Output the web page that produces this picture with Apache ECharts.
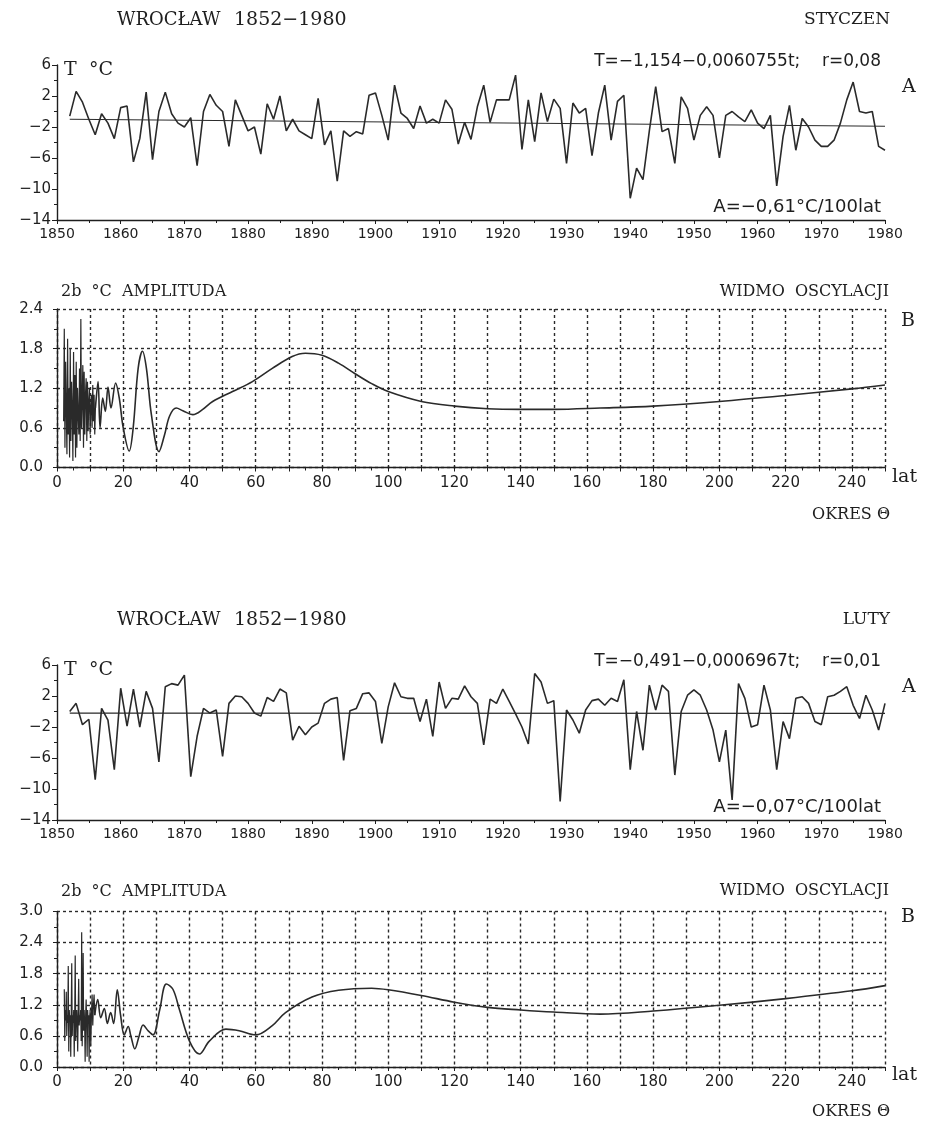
<!DOCTYPE html>
<html><head><meta charset="utf-8">
<script src="https://cdn.jsdelivr.net/npm/echarts@6/dist/echarts.min.js"></script>
<style>html,body{margin:0;padding:0;background:#fff}#c{width:934px;height:1122px}</style>
</head><body><div id="c"></div>
<script>
// ---------------- DATA ----------------
const startYear = 1852;
const janTemps = [
 -0.6, 2.6, 1.2, -1.0, -3.0, -0.3, -1.5, -3.5, 0.5, 0.7,
 -6.5, -3.5, 2.5, -6.2, 0.0, 2.5, -0.3, -1.5, -2.0, -0.8,
 -7.0, 0.0, 2.2, 0.8, 0.0, -4.5, 1.5, -0.5, -2.5, -2.0,
 -5.5, 1.0, -1.0, 2.0, -2.5, -1.0, -2.5, -3.0, -3.5, 1.7,
 -4.3, -2.5, -9.0, -2.5, -3.2, -2.6, -2.9, 2.1, 2.4, -0.5,
 -3.7, 3.4, -0.2, -0.9, -2.2, 0.7, -1.5, -1.0, -1.5, 1.5,
 0.3, -4.2, -1.4, -3.6, 0.6, 3.4, -1.4, 1.5, 1.5, 1.5,
 4.7, -4.9, 1.5, -3.9, 2.4, -1.3, 1.6, 0.4, -6.7, 1.1,
 -0.2, 0.4, -5.7, -0.2,
 3.4, -3.7, 1.3, 2.1, -11.2, -7.3, -8.8, -2.5, 3.2, -2.6,
 -2.2, -6.7, 1.9, 0.4, -3.7, -0.5, 0.6, -0.5, -6.0, -0.5,
 0.0, -0.7, -1.3, 0.2, -1.5, -2.2, -0.5, -9.6, -3.2, 0.8,
 -5.0, -0.9, -2.0, -3.7, -4.5, -4.5, -3.7, -1.5, 1.5, 3.8,
 0.0, -0.2, 0.0, -4.5, -5.0
];
const febTemps = [
 0.0, 1.05, -1.7, -1.0, -8.8, 0.4, -1.1, -7.5, 3.0, -1.9,
 2.9, -2.0, 2.6, 0.4, -6.5, 3.2, 3.6, 3.4, 4.7, -8.4,
 -3.2, 0.4, -0.2, 0.2, -5.8, 1.05, 2.0, 1.9, 1.05, -0.2,
 -0.6, 1.8, 1.3, 2.9, 2.4, -3.7, -1.9, -3.0, -2.0, -1.5,
 1.05, 1.6, 1.8, -6.3, 0.1, 0.4, 2.3, 2.4, 1.3, -4.1,
 0.6, 3.7, 1.9, 1.7, 1.7, -1.3, 1.6, -3.2, 3.8, 0.4,
 1.7, 1.6, 3.3, 1.9, 1.05, -4.3, 1.6, 1.05, 2.9, 1.3,
 -0.3, -2.0, -4.2, 4.9, 3.8, 1.05, 1.4, -11.6, 0.2, -1.1,
 -2.8, 0.2, 1.4, 1.6,
 0.8, 1.7, 1.3, 4.1, -7.5, 0.0, -5.0, 3.4, 0.2, 3.4,
 2.6, -8.2, 0.0, 2.1, 2.8, 2.1, 0.2, -2.4, -6.5, -2.4,
 -11.4, 3.6, 1.7, -2.0, -1.7, 3.4, 0.2, -7.5, -1.3, -3.5,
 1.7, 1.9, 1.05, -1.3, -1.7, 1.9, 2.1, 2.6, 3.2, 0.8,
 -0.9, 2.1, 0.2, -2.4, 1.05
];
const trendYears = [1852, 1980];
const janTrend = [-1.0, -1.9];
const febTrend = [-0.2, -0.25];

// spectra: short-period (jagged) part and long-period (smooth) part
const janShortPeriod = [2.0,2.2,2.4,2.6,2.8,3.0,3.2,3.4,3.6,3.8,4.0,4.2,4.4,4.6,4.8,5.0,5.2,5.4,5.6,5.8,6.0,6.2,6.4,6.6,6.8,7.0,7.2,7.4,7.6,7.8,8.0,8.2,8.4,8.6,8.8,9.0,9.2,9.4,9.6,9.8,10.0,10.2,10.4,10.6,10.8,11.0,11.2,11.4,11.6];
const janShortAmp    = [0.7,2.1,0.3,1.6,0.9,0.2,1.95,0.5,1.2,0.15,1.8,0.4,1.3,0.9,0.1,1.75,0.5,1.4,0.15,1.6,0.3,1.2,0.8,0.5,1.5,0.4,2.25,0.6,1.0,1.55,0.3,1.45,0.5,1.1,1.35,0.4,1.3,0.55,1.0,1.2,0.5,0.9,1.1,0.6,1.25,0.7,1.1,0.5,0.9];
const janLongPeriod = [12.4,13.0,13.8,14.6,15.4,16.3,17.7,18.8,20,21.8,23,24.5,25.8,27,28.5,30.8,32.5,34,36,38,41,44,47,53,59,65,71,75,80,85,90,95,100,110,120,130,140,150,164,180,200,220,240,250];
const janLongAmp    = [1.3,0.6,1.05,0.85,1.22,0.9,1.28,1.05,0.6,0.25,0.6,1.5,1.76,1.5,0.8,0.24,0.5,0.78,0.9,0.86,0.8,0.88,1.0,1.15,1.3,1.5,1.68,1.73,1.7,1.58,1.42,1.27,1.15,1.0,0.93,0.89,0.88,0.88,0.9,0.93,1.0,1.09,1.19,1.25];

const febShortPeriod = [2.2,2.35,2.5,2.65,2.8,2.95,3.1,3.25,3.4,3.55,3.7,3.85,4.0,4.15,4.3,4.45,4.6,4.75,4.9,5.05,5.2,5.35,5.5,5.65,5.8,5.95,6.1,6.25,6.4,6.55,6.7,6.85,7.0,7.15,7.3,7.45,7.6,7.75,7.9,8.05,8.2,8.35,8.5,8.65,8.8,8.95,9.1,9.25,9.4,9.55,9.7,9.85,10.0,10.2,10.4,10.6,10.8,11.0,11.2,11.4];
const febShortAmp    = [1.5,0.5,1.1,0.9,1.45,0.6,1.0,0.85,1.95,0.3,1.1,0.9,1.0,0.2,1.05,2.0,0.6,1.0,0.85,1.1,0.2,1.0,2.15,0.5,0.9,1.1,0.85,0.3,1.05,1.7,0.8,1.0,0.9,1.1,0.5,2.6,0.4,1.0,2.2,0.7,1.1,0.85,0.1,1.0,1.3,0.9,0.2,1.1,0.85,1.0,0.1,0.9,1.1,0.4,1.0,1.4,0.8,1.2,1.4,1.0];
const febLongPeriod = [12.3,13.2,14.3,15.2,16.2,17.1,18.2,19.2,20.3,21.5,22.3,23.5,24.8,26,27.5,29,31,33,35,37,40,43,46,51,55,60,65,69,77,85,95,100,110,120,130,140,150,164,180,200,220,240,250];
const febLongAmp    = [1.3,0.95,1.13,0.84,1.05,0.84,1.49,1.0,0.62,0.78,0.6,0.35,0.6,0.81,0.7,0.62,1.1,1.6,1.5,1.1,0.5,0.25,0.5,0.73,0.7,0.62,0.8,1.05,1.35,1.48,1.52,1.49,1.38,1.25,1.15,1.1,1.06,1.02,1.08,1.19,1.32,1.47,1.57];

// ---------------- CHART ----------------
const SANS = 'DejaVu Sans';
const SERIF = 'DejaVu Serif';
const INK = '#1e1e1e';
const toMinus = v => String(v).replace('-', '\u2212');

function pairs(xs, ys){ return xs.map((x,i)=>[x, ys[i]]); }
const years = janTemps.map((_, i) => startYear + i);

function tsX(g){ return {gridIndex:g, type:'value', min:1850, max:1980, interval:10,
  axisLine:{onZero:false, lineStyle:{color:INK, width:1.4}},
  axisTick:{show:true, length:4, lineStyle:{color:INK}},
  minorTick:{show:true, splitNumber:2, length:3, lineStyle:{color:INK}},
  axisLabel:{fontFamily:SANS, fontSize:14, color:INK, margin:7, formatter:v => String(v)},
  splitLine:{show:false}}; }
function tsY(g){ return {gridIndex:g, type:'value', min:-14, max:6, interval:4,
  axisLine:{show:true, onZero:false, lineStyle:{color:INK, width:1.4}},
  axisTick:{show:true, length:5, lineStyle:{color:INK}},
  minorTick:{show:true, splitNumber:2, length:3, lineStyle:{color:INK}},
  axisLabel:{fontFamily:SANS, fontSize:15, color:INK, margin:6, formatter:toMinus},
  splitLine:{show:false}}; }
const dotted = {show:true, lineStyle:{color:'#2a2a2a', width:1.4, type:[3,3]}};
function spX(g){ return {gridIndex:g, type:'value', min:0, max:250, interval:10,
  axisLine:{onZero:false, lineStyle:{color:INK, width:1.4}},
  axisTick:{show:true, length:4, lineStyle:{color:INK}},
  minorTick:{show:true, splitNumber:2, length:3, lineStyle:{color:INK}},
  axisLabel:{fontFamily:SANS, fontSize:15, color:INK, margin:8, formatter:v => (v % 20 === 0 ? String(v) : '')},
  splitLine:dotted}; }
function spY(g, max){ return {gridIndex:g, type:'value', min:0, max:max, interval:0.6,
  axisLine:{show:true, onZero:false, lineStyle:{color:INK, width:1.4}},
  axisTick:{show:true, length:4, lineStyle:{color:INK}},
  minorTick:{show:true, splitNumber:2, length:3, lineStyle:{color:INK}},
  axisLabel:{fontFamily:SANS, fontSize:15, color:INK, margin:14, formatter:v => v.toFixed(1)},
  splitLine:dotted}; }

function line(xi, data, smooth, width){ return {type:'line', xAxisIndex:xi, yAxisIndex:xi, data,
  showSymbol:false, symbol:'none', smooth:smooth||false, animation:false,
  lineStyle:{color:'#2a2a2a', width:width||1.6}}; }

function txt(x, y, text, font, align){ return {type:'text', x, y, silent:true,
  style:{text, font, fill:INK, textAlign:align||'left', textVerticalAlign:'middle'}}; }

const janLongFull = [[janShortPeriod[janShortPeriod.length-1], janShortAmp[janShortAmp.length-1]]].concat(pairs(janLongPeriod, janLongAmp));
const febLongFull = [[febShortPeriod[febShortPeriod.length-1], febShortAmp[febShortAmp.length-1]]].concat(pairs(febLongPeriod, febLongAmp));

const graphics = [];
function half(dy, month, eq, trendTxt){
  graphics.push(txt(117, 20+dy, 'WROCŁAW', '18px '+SERIF));
  graphics.push(txt(234, 20+dy, '1852\u22121980', '19px '+SERIF));
  graphics.push(txt(890, 20+dy, month, '17px '+SERIF, 'right'));
  graphics.push(txt(881, 62+dy, eq, '17px '+SANS, 'right'));
  graphics.push(txt(64, 70+dy, 'T', '19px '+SERIF));
  graphics.push(txt(89, 70+dy, '°C', '19px '+SERIF));
  graphics.push(txt(902, 87+dy, 'A', '19px '+SERIF));
  graphics.push(txt(881, 207+dy, trendTxt, '18px '+SANS, 'right'));
  graphics.push(txt(61, 292+dy, '2b  °C  AMPLITUDA', '16px '+SERIF));
  graphics.push(txt(889, 292+dy-(dy?1:0), 'WIDMO  OSCYLACJI', '16px '+SERIF, 'right'));
  graphics.push(txt(901, 321+dy-(dy?4:0), 'B', '19px '+SERIF));
  graphics.push(txt(892, 477+dy-(dy?2:0), 'lat', '19px '+SERIF));
  graphics.push(txt(890, 515+dy-(dy?3:0), 'OKRES \u0398', '16px '+SERIF, 'right'));
}
half(0, 'STYCZEN', 'T=\u22121,154\u22120,0060755t;    r=0,08', 'A=\u22120,61°C/100lat');
half(600, 'LUTY', 'T=\u22120,491\u22120,0006967t;    r=0,01', 'A=\u22120,07°C/100lat');

const option = {
  backgroundColor:'#fff',
  animation:false,
  grid:[
    {left:57, top:65, width:828, height:155},
    {left:57, top:309, width:828, height:158.5},
    {left:57, top:665, width:828, height:155},
    {left:57, top:911.5, width:828, height:155.5}
  ],
  xAxis:[tsX(0), spX(1), tsX(2), spX(3)],
  yAxis:[tsY(0), spY(1, 2.4), tsY(2), spY(3, 3.0)],
  series:[
    line(0, pairs(years, janTemps)),
    line(0, pairs(trendYears, janTrend), false, 1.2),
    line(1, pairs(janShortPeriod, janShortAmp), false, 1.2),
    line(1, janLongFull, 0.35),
    line(2, pairs(years, febTemps)),
    line(2, pairs(trendYears, febTrend), false, 1.2),
    line(3, pairs(febShortPeriod, febShortAmp), false, 1.2),
    line(3, febLongFull, 0.35)
  ],
  graphic: graphics
};
echarts.init(document.getElementById('c')).setOption(option);
</script></body></html>
